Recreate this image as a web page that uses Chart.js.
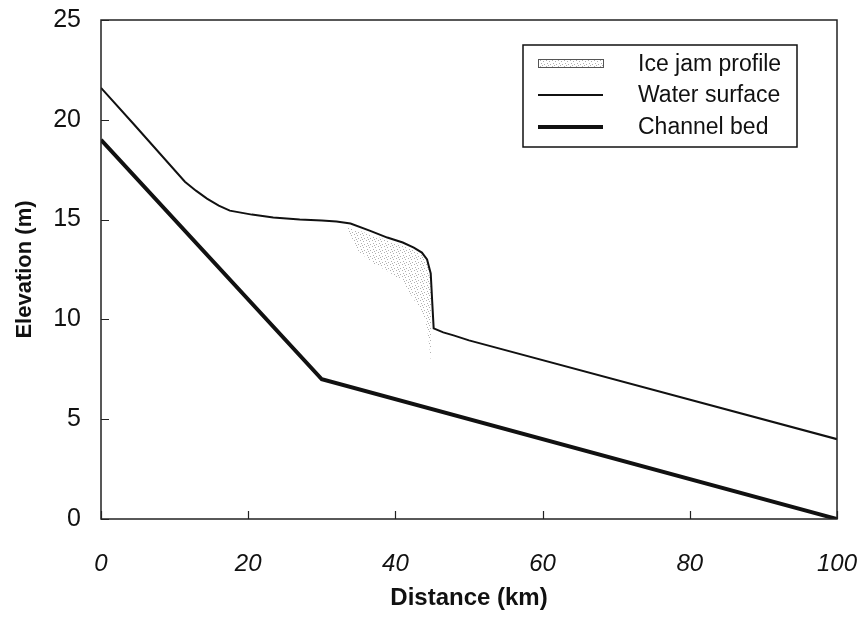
<!DOCTYPE html>
<html><head><meta charset="utf-8">
<script src="https://cdn.jsdelivr.net/npm/chart.js@4"></script>
<style>html,body{margin:0;padding:0;background:#fff}#wrap{width:864px;height:617px}</style>
</head><body><div id="wrap"><canvas id="c" width="864" height="617" style="width:864px;height:617px"></canvas></div>
<script>
// ---- data ----
const waterX = [0, 4.4, 11.4, 12.9, 14.4, 16, 17.5, 20.5, 23.4, 27, 30, 32, 33.9, 36.5, 38.9, 41, 42.5, 43.6, 44.3, 44.8, 45.0, 45.2, 46.5, 47.9, 50, 100];
const waterY = [21.6, 19.8, 16.9, 16.45, 16.05, 15.7, 15.45, 15.25, 15.1, 15.0, 14.95, 14.9, 14.8, 14.45, 14.1, 13.85, 13.6, 13.35, 13.0, 12.3, 10.9, 9.55, 9.35, 9.2, 8.95, 4.0];
const bedX = [0, 30, 100];
const bedY = [19.0, 7.0, 0.0];
const iceX = [33.5, 35, 37, 39, 41, 42.5, 43.5, 44.3, 44.8, 45.0];
const iceTop = [14.6, 14.45, 14.2, 13.95, 13.7, 13.45, 13.25, 12.9, 12.2, 7.0];
const iceBottom = [14.5, 13.4, 12.8, 12.4, 11.9, 11.0, 10.4, 9.6, 8.0, 7.0];
const xTicks = [0, 20, 40, 60, 80, 100];
const yTicks = [0, 5, 10, 15, 20, 25];
const seriesLabels = ['Ice jam profile', 'Water surface', 'Channel bed'];
const axisTitles = ['Distance (km)', 'Elevation (m)'];

const FONT = "'Liberation Sans', Arial, Helvetica, sans-serif";
const pts = (xs, ys) => xs.map((x, i) => ({x, y: ys[i]}));

const canvas = document.getElementById('c');
const ctx = canvas.getContext('2d');
const pc = document.createElement('canvas');
pc.width = 6; pc.height = 6;
const pctx = pc.getContext('2d');
pctx.fillStyle = '#b0b0b0';
[[0,0],[3,1],[1,3],[4,4],[2,5]].forEach(([a,b]) => pctx.fillRect(a, b, 1, 1));
const stipple = ctx.createPattern(pc, 'repeat');

const framePlugin = {
  id: 'frame',
  afterDraw(chart) {
    const c = chart.ctx, ca = chart.chartArea;
    const xs = chart.scales.x, ys = chart.scales.y;
    c.save();
    c.strokeStyle = '#222';
    c.lineWidth = 1.5;
    c.strokeRect(ca.left, ca.top, ca.right - ca.left, ca.bottom - ca.top);
    c.lineWidth = 1.2;
    c.beginPath();
    xTicks.forEach(v => { const p = Math.round(xs.getPixelForValue(v)) + 0.5; c.moveTo(p, ca.bottom); c.lineTo(p, ca.bottom - 8); });
    yTicks.forEach(v => { const p = Math.round(ys.getPixelForValue(v)) + 0.5; c.moveTo(ca.left, p); c.lineTo(ca.left + 8, p); });
    c.stroke();
    // legend
    const W = 274, H = 102;
    const L = ca.right - 40 - W, T = ca.top + 25;
    c.fillStyle = '#fff';
    c.fillRect(L, T, W, H);
    c.lineWidth = 1.5;
    c.strokeStyle = '#111';
    c.strokeRect(L, T, W, H);
    const rows = [T + 19, T + 50, T + 82];
    const sx0 = L + 15, sx1 = L + 80;
    c.fillStyle = stipple;
    c.fillRect(sx0, rows[0] - 4, sx1 - sx0, 8);
    c.lineWidth = 1;
    c.strokeStyle = '#555';
    c.strokeRect(sx0 + 0.5, rows[0] - 4.5, sx1 - sx0, 8);
    c.strokeStyle = '#111';
    c.lineWidth = 2;
    c.beginPath(); c.moveTo(sx0, rows[1]); c.lineTo(sx1, rows[1]); c.stroke();
    c.lineWidth = 4;
    c.beginPath(); c.moveTo(sx0, rows[2]); c.lineTo(sx1, rows[2]); c.stroke();
    c.fillStyle = '#111';
    c.font = '23px ' + FONT;
    c.textBaseline = 'middle';
    c.textAlign = 'left';
    seriesLabels.forEach((t, i) => c.fillText(t, L + 115, rows[i] + 1));
    c.restore();
  }
};

new Chart(ctx, {
  type: 'line',
  data: {
    datasets: [
      { label: seriesLabels[0], data: pts(iceX, iceTop), borderWidth: 0, borderColor: 'rgba(0,0,0,0)', backgroundColor: stipple, fill: '+1', pointRadius: 0, tension: 0, order: 3 },
      { label: 'ice bottom', data: pts(iceX, iceBottom), borderWidth: 0, borderColor: 'rgba(0,0,0,0)', fill: false, pointRadius: 0, tension: 0, order: 4 },
      { label: seriesLabels[1], data: pts(waterX, waterY), borderColor: '#111', borderWidth: 2, fill: false, pointRadius: 0, tension: 0, order: 1 },
      { label: seriesLabels[2], data: pts(bedX, bedY), borderColor: '#111', borderWidth: 4, fill: false, pointRadius: 0, tension: 0, order: 0 }
    ]
  },
  options: {
    responsive: false,
    animation: false,
    devicePixelRatio: 1,
    layout: { padding: { top: 20, right: 27, left: 0, bottom: 0 } },
    plugins: { legend: { display: false }, tooltip: { enabled: false } },
    scales: {
      x: {
        type: 'linear', min: 0, max: 100,
        afterBuildTicks: s => { s.ticks = xTicks.map(v => ({ value: v })); },
        afterFit: s => { s.height = 98; s.paddingLeft = 0; s.paddingRight = 0; },
        grid: { display: false }, border: { display: false },
        ticks: { color: '#111', font: { family: FONT, size: 24, style: 'italic' }, padding: 23, maxRotation: 0, autoSkip: false },
        title: { display: true, text: axisTitles[0], color: '#111', font: { family: FONT, size: 24, weight: 'bold' }, padding: { top: 0, bottom: 4 } }
      },
      y: {
        min: 0, max: 25,
        afterBuildTicks: s => { s.ticks = yTicks.map(v => ({ value: v })); },
        afterFit: s => { s.width = 101; s.paddingTop = 0; s.paddingBottom = 0; },
        grid: { display: false }, border: { display: false },
        ticks: { color: '#111', font: { family: FONT, size: 25 }, padding: 12 },
        title: { display: true, text: axisTitles[1], color: '#111', font: { family: FONT, size: 22, weight: 'bold' }, padding: { top: 12, bottom: 0 } }
      }
    }
  },
  plugins: [framePlugin]
});
</script>
</body></html>
